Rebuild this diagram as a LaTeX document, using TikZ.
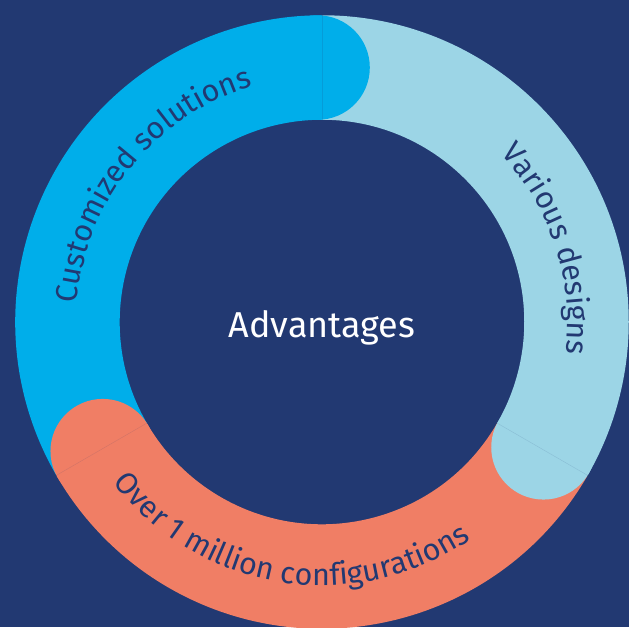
\documentclass[tikz,border=0pt]{standalone}
\usepackage{fontspec}
\setmainfont{Fira Sans}
\usepackage{xcolor}
\usetikzlibrary{decorations.text}

\definecolor{ringnavy}{RGB}{34,57,114}
\definecolor{ringcyan}{RGB}{0,174,234}
\definecolor{ringsky}{RGB}{156,213,230}
\definecolor{ringcoral}{RGB}{240,126,101}

\newcommand{\arcfont}{\fontsize{30.5}{30.5}\selectfont}

\begin{document}
\begin{tikzpicture}[
        band/.style={line width=104.5pt},
        seam/.style={line width=0.4pt, ringnavy, opacity=0.15},
        arclabel/.style={decorate, decoration={text along path, text align=center, text={#1}}}
    ]
    % First, the background and the frame of the picture
        \fill[ringnavy] (-322pt,-305pt) rectangle (307pt,322pt);
        \useasboundingbox (-322pt,-305pt) rectangle (307pt,322pt);

    % Now the three bands of the ring:
        \draw [band, ringcyan] (210:254.5pt) arc[start angle=210, end angle=90, radius=254.5pt];
        \draw [band, ringsky] (90:254.5pt) arc[start angle=90, end angle=-30, radius=254.5pt];
        \draw [band, ringcoral] (330:254.5pt) arc[start angle=330, end angle=210, radius=254.5pt];

    % Round ends of the bands
        \fill [ringcyan] (91:254.5pt) circle (52.25pt);
        \fill [ringsky] (-29.5:254.5pt) circle (52.25pt);
        \fill [ringcoral] (210.5:254.5pt) circle (52.25pt);

    % Thin seams where the bands meet
        \draw [seam] (90:202pt) -- (90:307pt);
        \draw [seam] (210:202pt) -- (210:307pt);
        \draw [seam] (330:202pt) -- (330:307pt);

    % Labels along the ring
        \path [arclabel={|\arcfont\color{ringnavy}|Customized solutions}] (201:245.5pt) arc[start angle=201, end angle=81, radius=245.5pt];
        \path [arclabel={|\arcfont\color{ringnavy}|Various designs}] (78:245.5pt) arc[start angle=78, end angle=-42, radius=245.5pt];
        \path [arclabel={|\arcfont\color{ringnavy}|Over 1 million configurations}] (201:263.5pt) arc[start angle=201, end angle=321, radius=263.5pt];

    % Finally the centre
        \node [anchor=base, white, font=\fontsize{36}{36}\selectfont] (adv) at (0pt,-15pt) {Advantages};
    \end{tikzpicture}
\end{document}
